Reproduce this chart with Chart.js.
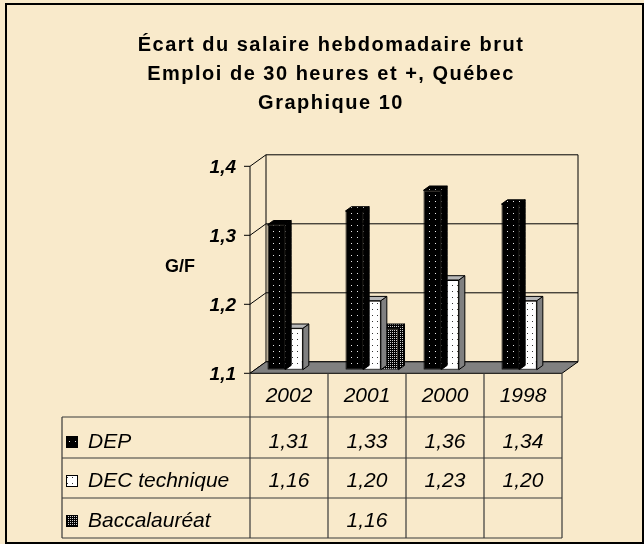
<!DOCTYPE html>
<html>
<head>
<meta charset="utf-8">
<script src="https://cdn.jsdelivr.net/npm/chart.js@4/dist/chart.umd.min.js"></script>
<style>
  html, body { margin: 0; padding: 0; background: #F9EACB; }
  canvas { display: block; }
</style>
</head>
<body>
<canvas id="graph10" width="644" height="544"></canvas>
<script>
// data
const years = ['2002', '2001', '2000', '1998'];
const seriesNames = ['DEP', 'DEC technique', 'Baccalauréat'];
const depValues = [1.31, 1.33, 1.36, 1.34];
const decValues = [1.16, 1.20, 1.23, 1.20];
const baccValues = [null, 1.16, null, null];
const yTicks = [1.1, 1.2, 1.3, 1.4];
const titleLines = ['Écart du salaire hebdomadaire brut', 'Emploi de 30 heures et +, Québec', 'Graphique 10'];
const yTitle = 'G/F';

const FONT = "'Liberation Sans', Arial, sans-serif";
const FRONT = { dx: -5, dy: 3.6 };   // front edge of floor, relative to bar plane
const BACK = { dx: 11, dy: -7.9 };   // back wall, relative to bar plane
const DEPTH = { dx: 6, dy: -4.3 };   // thickness of one bar
const fmt = (v, d) => v.toFixed(d).replace('.', ',');

function makePattern(w, h, bg, dot, dots) {
  const c = document.createElement('canvas');
  c.width = w; c.height = h;
  const g = c.getContext('2d');
  g.fillStyle = bg;
  g.fillRect(0, 0, w, h);
  g.fillStyle = dot;
  dots.forEach(([x, y]) => g.fillRect(x, y, 1, 1));
  return g.createPattern(c, 'repeat');
}

const depPattern = makePattern(6, 6, '#000', '#e8e8e8', [[3, 3]]);
const decPattern = makePattern(5, 6, '#fff', '#333', [[2, 3]]);
const baccPattern = makePattern(2, 2, '#000', '#d0d0d0', [[0, 0]]);
const fronts = [depPattern, decPattern, baccPattern];
const sides = [depPattern, '#808080', baccPattern];
const tops = [depPattern, '#b8b8b8', baccPattern];

function poly(ctx, pts, fill) {
  ctx.beginPath();
  ctx.moveTo(pts[0][0], pts[0][1]);
  pts.slice(1).forEach(p => ctx.lineTo(p[0], p[1]));
  ctx.closePath();
  if (fill) { ctx.fillStyle = fill; ctx.fill(); }
  ctx.stroke();
}

const excel3d = {
  id: 'excel3d',
  beforeDraw(chart) {
    const ctx = chart.ctx;
    ctx.save();
    ctx.fillStyle = '#F9EACB';
    ctx.fillRect(0, 0, chart.width, chart.height);
    ctx.strokeStyle = '#000';
    ctx.lineWidth = 2;
    ctx.strokeRect(6, 4, 637, 539);
    // title
    ctx.fillStyle = '#000';
    ctx.font = 'bold 20px ' + FONT;
    ctx.letterSpacing = '1.5px';
    ctx.textAlign = 'center';
    titleLines.forEach((t, i) => ctx.fillText(t, 331, 51 + i * 29));
    ctx.restore();
  },
  beforeDatasetsDraw(chart) {
    const ctx = chart.ctx;
    const a = chart.chartArea;
    const y = chart.scales.y;
    const fl = a.left + FRONT.dx, fr = a.right + FRONT.dx;
    const bl = a.left + BACK.dx, br = a.right + BACK.dx;
    ctx.save();
    ctx.strokeStyle = '#000';
    ctx.lineWidth = 1;
    // back wall + left wall grid
    const top = y.getPixelForValue(yTicks[yTicks.length - 1]);
    const bot = y.getPixelForValue(yTicks[0]);
    ctx.beginPath();
    ctx.moveTo(bl, bot + BACK.dy); ctx.lineTo(bl, top + BACK.dy);
    ctx.moveTo(br, bot + BACK.dy); ctx.lineTo(br, top + BACK.dy);
    yTicks.forEach(v => {
      const p = y.getPixelForValue(v);
      ctx.moveTo(fl - 6, p + FRONT.dy);
      ctx.lineTo(fl, p + FRONT.dy);
      ctx.lineTo(bl, p + BACK.dy);
      ctx.lineTo(br, p + BACK.dy);
    });
    ctx.moveTo(fl, top + FRONT.dy); ctx.lineTo(fl, bot + FRONT.dy);
    ctx.stroke();
    // floor
    poly(ctx, [[fl, bot + FRONT.dy], [fr, bot + FRONT.dy], [br, bot + BACK.dy], [bl, bot + BACK.dy]], '#808080');
    // axis labels
    ctx.fillStyle = '#000';
    ctx.font = 'bold italic 19px ' + FONT;
    ctx.textAlign = 'right';
    yTicks.forEach(v => ctx.fillText(fmt(v, 1), fl - 14, y.getPixelForValue(v) + FRONT.dy + 6.7));
    ctx.font = 'bold 18px ' + FONT;
    ctx.fillText(yTitle, 195, 272);
    ctx.restore();
  },
  beforeDatasetDraw(chart, args) {
    const ctx = chart.ctx;
    const i = args.index;
    const values = chart.data.datasets[i].data;
    ctx.save();
    ctx.strokeStyle = '#000';
    ctx.lineWidth = 1;
    args.meta.data.forEach((bar, j) => {
      if (values[j] == null) return;
      const l = bar.x - bar.width / 2, r = bar.x + bar.width / 2;
      const t = bar.y, b = bar.base;
      poly(ctx, [[r, b], [r + DEPTH.dx, b + DEPTH.dy], [r + DEPTH.dx, t + DEPTH.dy], [r, t]], sides[i]);
      poly(ctx, [[l, t], [l + DEPTH.dx, t + DEPTH.dy], [r + DEPTH.dx, t + DEPTH.dy], [r, t]], tops[i]);
    });
    ctx.restore();
  },
  afterDraw(chart) {
    const ctx = chart.ctx;
    const a = chart.chartArea;
    const x = chart.scales.x;
    const half = a.width / years.length / 2;
    const rows = [a.bottom + FRONT.dy, 417, 458, 498, 538];
    const baselines = [402, 448, 487, 527];
    const left = 62;
    const centers = years.map((_, j) => x.getPixelForValue(j) + FRONT.dx);
    ctx.save();
    ctx.strokeStyle = '#3a3a3a';
    ctx.lineWidth = 1.2;
    ctx.beginPath();
    [centers[0] - half].concat(centers.map(c => c + half)).forEach(cx => {
      ctx.moveTo(cx, rows[0]); ctx.lineTo(cx, rows[4]);
    });
    rows.slice(1).forEach(ry => { ctx.moveTo(left, ry); ctx.lineTo(centers[3] + half, ry); });
    ctx.moveTo(left, rows[1]); ctx.lineTo(left, rows[4]);
    ctx.stroke();

    ctx.fillStyle = '#000';
    ctx.font = 'italic 21px ' + FONT;
    ctx.textAlign = 'center';
    years.forEach((yr, j) => ctx.fillText(yr, centers[j], baselines[0]));
    chart.data.datasets.forEach((ds, i) => {
      const base = baselines[i + 1];
      ds.data.forEach((v, j) => {
        if (v != null) ctx.fillText(fmt(v, 2), centers[j], base);
      });
      // legend key
      ctx.fillStyle = fronts[i];
      ctx.fillRect(66, base - 12, 12, 12);
      ctx.strokeStyle = '#000';
      ctx.lineWidth = 1;
      ctx.strokeRect(66.5, base - 11.5, 11, 11);
      ctx.fillStyle = '#000';
      ctx.textAlign = 'left';
      ctx.fillText(seriesNames[i], 88, base);
      ctx.textAlign = 'center';
    });
    ctx.restore();
  }
};

new Chart(document.getElementById('graph10'), {
  type: 'bar',
  data: {
    labels: years,
    datasets: [
      { label: seriesNames[0], data: depValues, backgroundColor: depPattern },
      { label: seriesNames[1], data: decValues, backgroundColor: decPattern },
      { label: seriesNames[2], data: baccValues, backgroundColor: baccPattern }
    ]
  },
  options: {
    responsive: false,
    animation: false,
    events: [],
    layout: { padding: { left: 255, right: 77, top: 162.7, bottom: 174.3 } },
    datasets: {
      bar: {
        base: yTicks[0],
        categoryPercentage: 0.68,
        barPercentage: 1,
        borderWidth: 1,
        borderColor: '#000',
        borderSkipped: false
      }
    },
    scales: {
      x: { display: false },
      y: { display: false, min: 1.1, max: 1.4 }
    },
    plugins: {
      legend: { display: false },
      tooltip: { enabled: false }
    }
  },
  plugins: [excel3d]
});
</script>
</body>
</html>
